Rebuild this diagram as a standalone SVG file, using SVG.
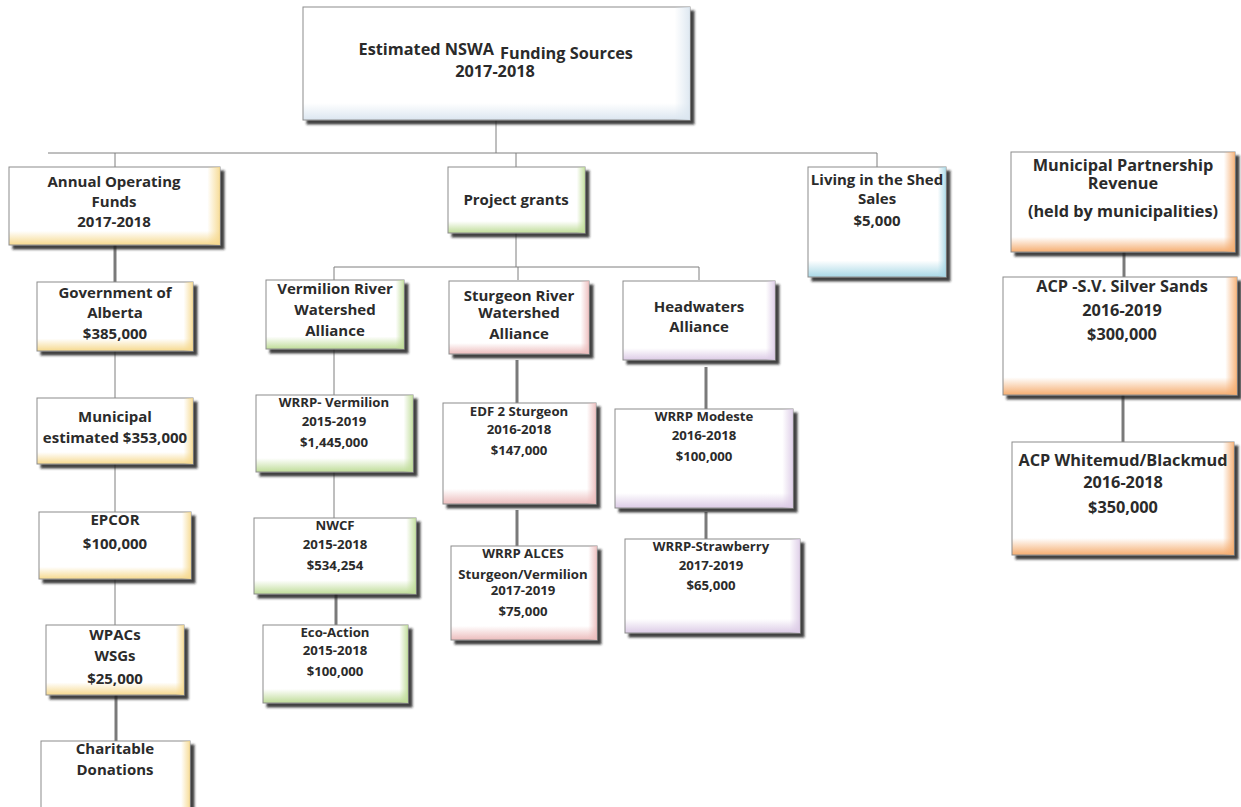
<svg xmlns="http://www.w3.org/2000/svg" width="1241" height="807" viewBox="0 0 1241 807">
<defs>
<filter id="sh" x="-10%" y="-10%" width="130%" height="130%">
<feDropShadow dx="4" dy="4" stdDeviation="1.2" flood-color="#1a1a1a" flood-opacity="0.85"/>
</filter>
<linearGradient id="vY" x1="0" y1="0" x2="0" y2="1"><stop offset="0" stop-color="#fff"/><stop offset="0.82" stop-color="#fff"/><stop offset="1" stop-color="#f6d98e"/></linearGradient>
<linearGradient id="hY" x1="0" y1="0" x2="1" y2="0"><stop offset="0" stop-color="#f6d98e" stop-opacity="0"/><stop offset="0.94" stop-color="#f6d98e" stop-opacity="0"/><stop offset="1" stop-color="#f6d98e" stop-opacity="0.9"/></linearGradient>
<linearGradient id="vG" x1="0" y1="0" x2="0" y2="1"><stop offset="0" stop-color="#fff"/><stop offset="0.82" stop-color="#fff"/><stop offset="1" stop-color="#bfdc98"/></linearGradient>
<linearGradient id="hG" x1="0" y1="0" x2="1" y2="0"><stop offset="0" stop-color="#bfdc98" stop-opacity="0"/><stop offset="0.94" stop-color="#bfdc98" stop-opacity="0"/><stop offset="1" stop-color="#bfdc98" stop-opacity="0.9"/></linearGradient>
<linearGradient id="vP" x1="0" y1="0" x2="0" y2="1"><stop offset="0" stop-color="#fff"/><stop offset="0.85" stop-color="#fff"/><stop offset="1" stop-color="#ecbcbc"/></linearGradient>
<linearGradient id="hP" x1="0" y1="0" x2="1" y2="0"><stop offset="0" stop-color="#ecbcbc" stop-opacity="0"/><stop offset="0.94" stop-color="#ecbcbc" stop-opacity="0"/><stop offset="1" stop-color="#ecbcbc" stop-opacity="0.9"/></linearGradient>
<linearGradient id="vL" x1="0" y1="0" x2="0" y2="1"><stop offset="0" stop-color="#fff"/><stop offset="0.85" stop-color="#fff"/><stop offset="1" stop-color="#dccbe6"/></linearGradient>
<linearGradient id="hL" x1="0" y1="0" x2="1" y2="0"><stop offset="0" stop-color="#dccbe6" stop-opacity="0"/><stop offset="0.94" stop-color="#dccbe6" stop-opacity="0"/><stop offset="1" stop-color="#dccbe6" stop-opacity="0.9"/></linearGradient>
<linearGradient id="vB" x1="0" y1="0" x2="0" y2="1"><stop offset="0" stop-color="#fff"/><stop offset="0.85" stop-color="#fff"/><stop offset="1" stop-color="#a8d8e6"/></linearGradient>
<linearGradient id="hB" x1="0" y1="0" x2="1" y2="0"><stop offset="0" stop-color="#a8d8e6" stop-opacity="0"/><stop offset="0.94" stop-color="#a8d8e6" stop-opacity="0"/><stop offset="1" stop-color="#a8d8e6" stop-opacity="0.9"/></linearGradient>
<linearGradient id="vO" x1="0" y1="0" x2="0" y2="1"><stop offset="0" stop-color="#fff"/><stop offset="0.85" stop-color="#fff"/><stop offset="1" stop-color="#f5ad70"/></linearGradient>
<linearGradient id="hO" x1="0" y1="0" x2="1" y2="0"><stop offset="0" stop-color="#f5ad70" stop-opacity="0"/><stop offset="0.95" stop-color="#f5ad70" stop-opacity="0"/><stop offset="1" stop-color="#f5ad70" stop-opacity="0.9"/></linearGradient>
<linearGradient id="vT" x1="0" y1="0" x2="0" y2="1"><stop offset="0" stop-color="#fff"/><stop offset="0.85" stop-color="#fff"/><stop offset="1" stop-color="#dbe6f0"/></linearGradient>
<linearGradient id="hT" x1="0" y1="0" x2="1" y2="0"><stop offset="0" stop-color="#dbe6f0" stop-opacity="0"/><stop offset="0.96" stop-color="#dbe6f0" stop-opacity="0"/><stop offset="1" stop-color="#dbe6f0" stop-opacity="0.9"/></linearGradient>
</defs>
<style>
.b{stroke:#8c8c8c;stroke-width:1;filter:url(#sh)}
.o{stroke:none}
.t{font-family:"Open Sans","Noto Sans","DejaVu Sans",sans-serif;font-weight:bold;fill:#2b2b2b;text-anchor:middle}
.l{font-size:15px}
.s{font-size:13.2px}
.m{font-size:16.3px}
.c{stroke:#7f7f7f;stroke-width:1;fill:none}
.k{stroke:#7a7a7a;stroke-width:3;fill:none}
</style>
<g id="connectors">
<path class="c" d="M496 120V153M48 153H877M115 153V167M516 153V167M877 153V167"/>
<path class="k" d="M115 245V282"/>
<path class="c" d="M115 351V398M115 464V512M115 579V625"/>
<path class="k" d="M116 695V741"/>
<path class="c" d="M516 233V267M334 267H699M334 267V280M518 267V280M699 267V280"/>
<path class="c" d="M334 349V395M334 472V518"/>
<path class="k" d="M336 594V625"/>
<path class="k" d="M517 360V403M517 510V546"/>
<path class="k" d="M706 367V409M706 512V539"/>
<path class="k" d="M1124 252V277"/>
<path class="k" d="M1123 395V442"/>
</g>
<g id="n-top"><rect class="b" x="303" y="7" width="387" height="113" fill="url(#vT)"/><rect class="o" x="303" y="7" width="387" height="113" fill="url(#hT)"/>
<text class="t m" x="494" y="55" style="text-anchor:end">Estimated NSWA</text><text class="t m" x="500" y="59" style="text-anchor:start">Funding Sources</text><text class="t m" x="495" y="77">2017-2018</text></g>
<g id="n-annual"><rect class="b" x="9" y="167" width="211" height="78" fill="url(#vY)"/><rect class="o" x="9" y="167" width="211" height="78" fill="url(#hY)"/>
<text class="t l" x="114" y="187">Annual Operating</text><text class="t l" x="114" y="207">Funds</text><text class="t l" x="114" y="227">2017-2018</text></g>
<g id="n-gov"><rect class="b" x="37" y="282" width="156" height="69" fill="url(#vY)"/><rect class="o" x="37" y="282" width="156" height="69" fill="url(#hY)"/>
<text class="t l" x="115" y="298">Government of</text><text class="t l" x="115" y="318">Alberta</text><text class="t l" x="115" y="339">$385,000</text></g>
<g id="n-muni"><rect class="b" x="37" y="398" width="156" height="66" fill="url(#vY)"/><rect class="o" x="37" y="398" width="156" height="66" fill="url(#hY)"/>
<text class="t l" x="115" y="422">Municipal</text><text class="t l" x="115" y="443">estimated $353,000</text></g>
<g id="n-epcor"><rect class="b" x="39" y="512" width="152" height="67" fill="url(#vY)"/><rect class="o" x="39" y="512" width="152" height="67" fill="url(#hY)"/>
<text class="t l" x="115" y="525">EPCOR</text><text class="t l" x="115" y="549">$100,000</text></g>
<g id="n-wpacs"><rect class="b" x="46" y="625" width="138" height="70" fill="url(#vY)"/><rect class="o" x="46" y="625" width="138" height="70" fill="url(#hY)"/>
<text class="t l" x="115" y="640">WPACs</text><text class="t l" x="115" y="661">WSGs</text><text class="t l" x="115" y="684">$25,000</text></g>
<g id="n-charity"><rect class="b" x="41" y="741" width="149" height="80" fill="url(#vY)"/><rect class="o" x="41" y="741" width="149" height="80" fill="url(#hY)"/>
<text class="t l" x="115" y="754">Charitable</text><text class="t l" x="115" y="775">Donations</text></g>
<g id="n-project"><rect class="b" x="448" y="167" width="137" height="66" fill="url(#vG)"/><rect class="o" x="448" y="167" width="137" height="66" fill="url(#hG)"/>
<text class="t l" x="516" y="205">Project grants</text></g>
<g id="n-shed"><rect class="b" x="808" y="167" width="138" height="110" fill="url(#vB)"/><rect class="o" x="808" y="167" width="138" height="110" fill="url(#hB)"/>
<text class="t l" x="877" y="185">Living in the Shed</text><text class="t l" x="877" y="204">Sales</text><text class="t l" x="877" y="226">$5,000</text></g>
<g id="n-vrwa"><rect class="b" x="266" y="280" width="138" height="69" fill="url(#vG)"/><rect class="o" x="266" y="280" width="138" height="69" fill="url(#hG)"/>
<text class="t l" x="335" y="294">Vermilion River</text><text class="t l" x="335" y="315">Watershed</text><text class="t l" x="335" y="336">Alliance</text></g>
<g id="n-srwa"><rect class="b" x="449" y="281" width="140" height="73" fill="url(#vP)"/><rect class="o" x="449" y="281" width="140" height="73" fill="url(#hP)"/>
<text class="t l" x="519" y="301">Sturgeon River</text><text class="t l" x="519" y="318">Watershed</text><text class="t l" x="519" y="339">Alliance</text></g>
<g id="n-head"><rect class="b" x="623" y="281" width="152" height="79" fill="url(#vL)"/><rect class="o" x="623" y="281" width="152" height="79" fill="url(#hL)"/>
<text class="t l" x="699" y="312">Headwaters</text><text class="t l" x="699" y="332">Alliance</text></g>
<g id="n-wrrpv"><rect class="b" x="256" y="395" width="157" height="77" fill="url(#vG)"/><rect class="o" x="256" y="395" width="157" height="77" fill="url(#hG)"/>
<text class="t s" x="334" y="407">WRRP- Vermilion</text><text class="t s" x="334" y="426">2015-2019</text><text class="t s" x="334" y="447">$1,445,000</text></g>
<g id="n-nwcf"><rect class="b" x="254" y="518" width="162" height="76" fill="url(#vG)"/><rect class="o" x="254" y="518" width="162" height="76" fill="url(#hG)"/>
<text class="t s" x="335" y="530">NWCF</text><text class="t s" x="335" y="549">2015-2018</text><text class="t s" x="335" y="570">$534,254</text></g>
<g id="n-eco"><rect class="b" x="263" y="625" width="145" height="78" fill="url(#vG)"/><rect class="o" x="263" y="625" width="145" height="78" fill="url(#hG)"/>
<text class="t s" x="335" y="637">Eco-Action</text><text class="t s" x="335" y="655">2015-2018</text><text class="t s" x="335" y="676">$100,000</text></g>
<g id="n-edf"><rect class="b" x="443" y="403" width="153" height="101" fill="url(#vP)"/><rect class="o" x="443" y="403" width="153" height="101" fill="url(#hP)"/>
<text class="t s" x="519" y="416">EDF 2 Sturgeon</text><text class="t s" x="519" y="434">2016-2018</text><text class="t s" x="519" y="455">$147,000</text></g>
<g id="n-alces"><rect class="b" x="451" y="546" width="146" height="94" fill="url(#vP)"/><rect class="o" x="451" y="546" width="146" height="94" fill="url(#hP)"/>
<text class="t s" x="523" y="558">WRRP ALCES</text><text class="t s" x="523" y="579">Sturgeon/Vermilion</text><text class="t s" x="523" y="595">2017-2019</text><text class="t s" x="523" y="616">$75,000</text></g>
<g id="n-modeste"><rect class="b" x="615" y="409" width="178" height="99" fill="url(#vL)"/><rect class="o" x="615" y="409" width="178" height="99" fill="url(#hL)"/>
<text class="t s" x="704" y="421">WRRP Modeste</text><text class="t s" x="704" y="440">2016-2018</text><text class="t s" x="704" y="461">$100,000</text></g>
<g id="n-straw"><rect class="b" x="625" y="539" width="175" height="94" fill="url(#vL)"/><rect class="o" x="625" y="539" width="175" height="94" fill="url(#hL)"/>
<text class="t s" x="711" y="551">WRRP-Strawberry</text><text class="t s" x="711" y="570">2017-2019</text><text class="t s" x="711" y="590">$65,000</text></g>
<g id="n-mpr"><rect class="b" x="1011" y="152" width="224" height="100" fill="url(#vO)"/><rect class="o" x="1011" y="152" width="224" height="100" fill="url(#hO)"/>
<text class="t m" x="1123" y="171">Municipal Partnership</text><text class="t m" x="1123" y="189">Revenue</text><text class="t m" x="1123" y="217">(held by municipalities)</text></g>
<g id="n-acpsv"><rect class="b" x="1003" y="277" width="234" height="118" fill="url(#vO)"/><rect class="o" x="1003" y="277" width="234" height="118" fill="url(#hO)"/>
<text class="t m" x="1122" y="292">ACP -S.V. Silver Sands</text><text class="t m" x="1122" y="316">2016-2019</text><text class="t m" x="1122" y="340">$300,000</text></g>
<g id="n-acpwb"><rect class="b" x="1012" y="442" width="222" height="113" fill="url(#vO)"/><rect class="o" x="1012" y="442" width="222" height="113" fill="url(#hO)"/>
<text class="t m" x="1123" y="466">ACP Whitemud/Blackmud</text><text class="t m" x="1123" y="488">2016-2018</text><text class="t m" x="1123" y="513">$350,000</text></g>
</svg>
